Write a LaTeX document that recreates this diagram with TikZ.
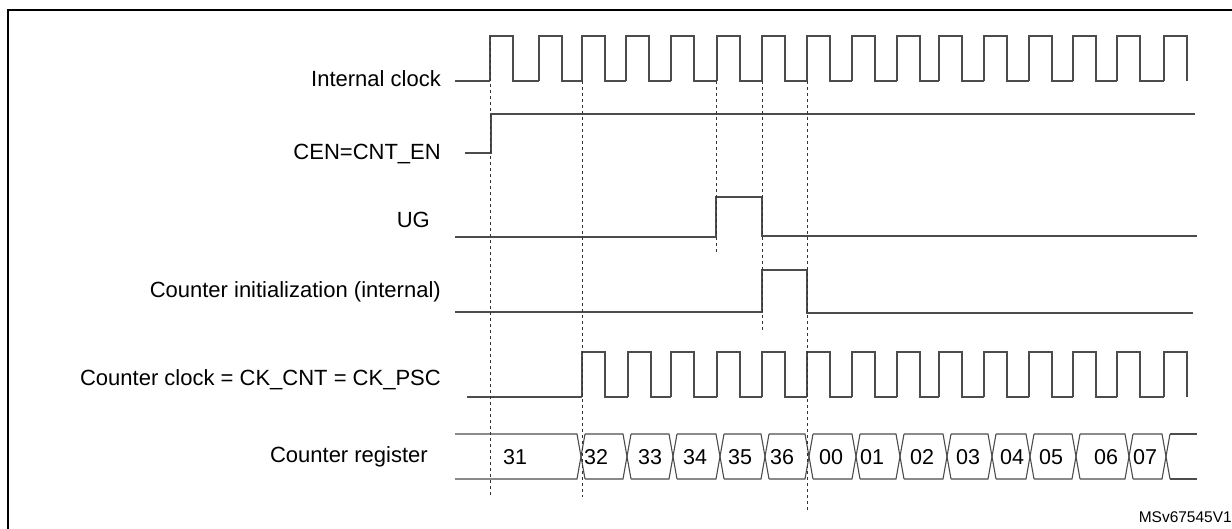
\documentclass[tikz,border=0pt]{standalone}
\usepackage{fontspec}
\setmainfont{Liberation Sans}
\usetikzlibrary{positioning}

\begin{document}
\begin{tikzpicture}[x=1pt,y=-1pt,
    sig/.style={draw=black!70, line width=1.1pt},
    edge mark/.style={black!80, dashed, line width=0.8pt},
    lbl/.style={anchor=east, font=\fontsize{22}{26}\selectfont, inner sep=0pt},
    val/.style={font=\fontsize{21.5}{26}\selectfont, inner sep=0pt}]

    % Fix the page size
    \useasboundingbox (0,0) rectangle (1232,528);
    \draw[black, line width=2pt] (8,10) rectangle (1250,545); % Frame

    % Signal names
    \node[lbl] (clk)  at (441,79)  {Internal clock};
    \node[lbl] (cen)  at (441,154) {CEN=CNT\_EN};
    \node[lbl] (ug)   at (430,220) {UG};
    \node[lbl] (init) at (441,292) {Counter initialization (internal)};
    \node[lbl] (cnt)  at (441,380) {Counter clock = CK\_CNT = CK\_PSC};
    \node[lbl] (reg)  at (428,457) {Counter register};

    % Internal clock
    \draw[sig] (455,81) -- (490,81);
    \foreach \r/\n in {490/539,539/582,582/626,626/671,671/717,717/762,762/807,807/852,852/897,897/939,939/984,984/1029,1029/1073,1073/1117,1117/1164} {
        \draw[sig] (\r,81) -- (\r,36) -- ({\r+23},36) -- ({\r+23},81) -- (\n,81);
    }
    \draw[sig] (1164,81) -- (1164,36) -- (1187,36) -- (1187,81);

    % CEN=CNT_EN
    \draw[sig] (465,153) -- (491,153) -- (491,114) -- (1195,114);

    % UG pulse
    \draw[sig] (455,237) -- (716,237) -- (716,197) -- (762,197) -- (762,236) -- (1197,236);

    % Counter initialization pulse
    \draw[sig] (455,312) -- (762,312) -- (762,270) -- (807,270) -- (807,313) -- (1193,313);

    % Counter clock
    \draw[sig] (467,397) -- (582,397);
    \foreach \r/\n in {582/628,628/671,671/717,717/762,762/807,807/852,852/897,897/939,939/984,984/1029,1029/1073,1073/1117,1117/1164} {
        \draw[sig] (\r,397) -- (\r,352) -- ({\r+23},352) -- ({\r+23},397) -- (\n,397);
    }
    \draw[sig] (1164,397) -- (1164,352) -- (1187,352) -- (1187,397);

    % Counter register bus
    \draw[sig] (455,434) -- (577,434) -- (585,479);
    \draw[sig] (455,479) -- (577,479) -- (585,434);
    \foreach \a/\b in {585/623,631/669,677/716,724/761,769/805,813/852,860/896,904/943,951/988,996/1026,1034/1072,1080/1125,1133/1162} {
        \draw[sig] (\a,434) -- (\b,434) -- ({\b+8},479);
        \draw[sig] (\a,479) -- (\b,479) -- ({\b+8},434);
    }
    \draw[sig] (1170,479) -- (1197,479);
    \draw[sig] (1170,434) -- (1197,434);

    % Register values
    \foreach \x/\v in {515/31,596/32,650/33,695/34,740/35,782/36,831/00,872/01,922/02,968/03,1012/04,1051/05,1106/06,1145/07} {
        \node[val] (v\v) at (\x,457) {\v};
    }

    % Timing markers
    \draw[edge mark] (490,36) -- (490,497);
    \draw[edge mark] (582,81) -- (582,497);
    \draw[edge mark] (716,81) -- (716,254);
    \draw[edge mark] (762,81) -- (762,330);
    \draw[edge mark] (807,81) -- (807,510);

    % Figure id
    \node[anchor=east, font=\fontsize{15.5}{18}\selectfont, inner sep=0pt] (fid) at (1232,517) {MSv67545V1};

\end{tikzpicture}
\end{document}
